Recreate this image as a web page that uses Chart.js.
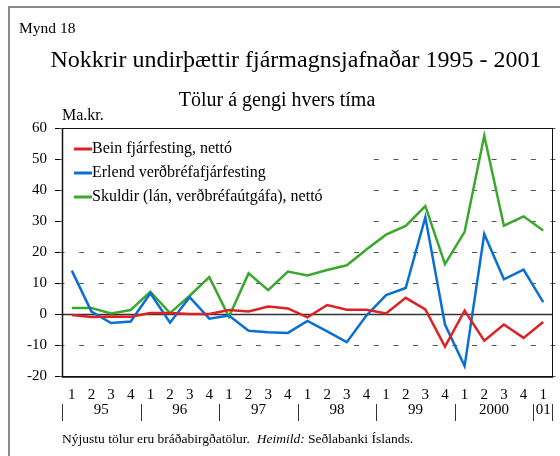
<!DOCTYPE html>
<html>
<head>
<meta charset="utf-8">
<script src="https://cdn.jsdelivr.net/npm/chart.js@4/dist/chart.umd.min.js"></script>
<style>
html, body { margin: 0; padding: 0; background: #fff; }
#wrap { width: 560px; height: 456px; }
</style>
</head>
<body>
<div id="wrap"><canvas id="chart" width="560" height="456"></canvas></div>
<script>
// Ársfjórðungar 1995 - 2001
const quarters = ['1','2','3','4','1','2','3','4','1','2','3','4','1','2','3','4','1','2','3','4','1','2','3','4','1'];
const years = ['95', '96', '97', '98', '99', '2000', '01'];

// Ma.kr.
const beinFjarfesting = [-0.3, -1.0, -0.8, -0.9, 0.3, 0.3, 0.0, 0.0, 1.3, 0.8, 2.4, 1.8, -1.1, 2.9, 1.4, 1.4, 0.2, 5.2, 1.5, -10.5, 1.1, -8.6, -3.4, -7.7, -2.6];
const erlendVerdbref = [14.0, 0.8, -2.9, -2.4, 6.7, -2.8, 5.4, -1.5, -0.5, -5.4, -5.9, -6.1, -2.2, -5.6, -9.1, -0.5, 6.1, 8.4, 31.2, -3.4, -16.8, 25.8, 11.2, 14.3, 3.8];
const skuldir = [1.9, 1.9, 0.2, 1.3, 7.2, 0.3, 5.9, 11.9, -0.9, 13.1, 7.7, 13.7, 12.4, 14.2, 15.7, 20.8, 25.6, 28.4, 34.8, 16.1, 26.5, 57.5, 28.5, 31.5, 26.9];

const seriesNames = ['Bein fjárfesting, nettó', 'Erlend verðbréfafjárfesting', 'Skuldir (lán, verðbréfaútgáfa), nettó'];
const seriesColors = ['#dc2222', '#0a6fd2', '#3aa82c'];

const serif = '"Liberation Serif", "Times New Roman", serif';

// Texti og rammi í kringum myndina
const frameText = {
    id: 'frameText',
    beforeDraw(chart) {
        const ctx = chart.ctx;
        const xs = chart.scales.x;
        const area = chart.chartArea;
        ctx.save();
        ctx.fillStyle = '#fff';
        ctx.fillRect(0, 0, chart.width, chart.height);

        // ytri rammi
        ctx.strokeStyle = '#8a8a8a';
        ctx.lineWidth = 2;
        ctx.beginPath();
        ctx.moveTo(9, 456);
        ctx.lineTo(9, 7);
        ctx.lineTo(560, 7);
        ctx.stroke();

        ctx.fillStyle = '#000';
        ctx.textBaseline = 'alphabetic';
        ctx.textAlign = 'left';
        ctx.font = '15.5px ' + serif;
        ctx.fillText('Mynd 18', 19, 33);
        ctx.font = '16px ' + serif;
        ctx.fillText('Ma.kr.', 62, 119.5);

        ctx.textAlign = 'center';
        ctx.font = '24px ' + serif;
        ctx.fillText('Nokkrir undirþættir fjármagnsjafnaðar 1995 - 2001', 296, 67);
        ctx.font = '20px ' + serif;
        ctx.fillText('Tölur á gengi hvers tíma', 277, 106);

        // ártöl undir x-ás
        const w = (area.right - area.left) / quarters.length;
        ctx.font = '15px ' + serif;
        ctx.textBaseline = 'middle';
        ctx.strokeStyle = '#333';
        ctx.lineWidth = 1;
        years.forEach((yr, j) => {
            const first = j * 4;
            const last = Math.min(first + 3, quarters.length - 1);
            const x0 = xs.getPixelForValue(first) - w / 2;
            const x1 = xs.getPixelForValue(last) + w / 2;
            ctx.beginPath();
            ctx.moveTo(Math.round(x0) + 0.5, 404);
            ctx.lineTo(Math.round(x0) + 0.5, 421);
            ctx.stroke();
            ctx.fillText(yr, (x0 + x1) / 2, 410);
            if (j === years.length - 1) {
                ctx.beginPath();
                ctx.moveTo(Math.round(x1) - 0.5, 404);
                ctx.lineTo(Math.round(x1) - 0.5, 421);
                ctx.stroke();
            }
        });

        // heimild
        ctx.textAlign = 'left';
        ctx.textBaseline = 'alphabetic';
        let fx = 62;
        const parts = [
            ['Nýjustu tölur eru bráðabirgðatölur.  ', ''],
            ['Heimild:', 'italic '],
            [' Seðlabanki Íslands.', '']
        ];
        parts.forEach(p => {
            ctx.font = p[1] + '13.5px ' + serif;
            ctx.fillText(p[0], fx, 443);
            fx += ctx.measureText(p[0]).width;
        });
        ctx.restore();
    },
    beforeDatasetsDraw(chart) {
        const ctx = chart.ctx;
        const xs = chart.scales.x;
        const ys = chart.scales.y;
        const area = chart.chartArea;
        const w = (area.right - area.left) / quarters.length;
        ctx.save();

        // strikalínur
        ctx.strokeStyle = '#555';
        ctx.lineWidth = 1;
        ys.ticks.forEach(t => {
            if (t.value === 0) return;
            const y = Math.round(ys.getPixelForValue(t.value)) + 0.5;
            for (let k = 0; k <= quarters.length; k++) {
                const x = xs.getPixelForValue(0) - w / 2 + k * w;
                ctx.beginPath();
                ctx.moveTo(x - 2.5, y);
                ctx.lineTo(x + 2.5, y);
                ctx.stroke();
            }
        });

        // núlllína
        const y0 = Math.round(ys.getPixelForValue(0)) + 0.5;
        ctx.strokeStyle = '#333';
        ctx.lineWidth = 1.5;
        ctx.beginPath();
        ctx.moveTo(area.left, y0);
        ctx.lineTo(area.right, y0);
        ctx.stroke();

        // skýringar
        ctx.fillStyle = '#fff';
        ctx.fillRect(area.left + 1, area.top + 1, 304, 107);
        ctx.font = '16px ' + serif;
        ctx.textBaseline = 'middle';
        ctx.textAlign = 'left';
        seriesNames.forEach((name, i) => {
            const y = area.top + 21 + i * 24;
            ctx.strokeStyle = seriesColors[i];
            ctx.lineWidth = 3;
            ctx.beginPath();
            ctx.moveTo(area.left + 12, y);
            ctx.lineTo(area.left + 30, y);
            ctx.stroke();
            ctx.fillStyle = '#000';
            ctx.fillText(name, area.left + 30, y);
        });
        ctx.restore();
    },
    afterDatasetsDraw(chart) {
        const ctx = chart.ctx;
        const area = chart.chartArea;
        ctx.save();
        ctx.strokeStyle = '#111';
        ctx.lineWidth = 1;
        ctx.strokeRect(Math.round(area.left) + 0.5, Math.round(area.top) + 0.5,
            Math.round(area.right - area.left) - 1, Math.round(area.bottom - area.top));
        ctx.lineWidth = 1.5;
        ctx.beginPath();
        ctx.moveTo(Math.round(area.left) + 0.5, area.top);
        ctx.lineTo(Math.round(area.left) + 0.5, area.bottom + 1);
        ctx.lineTo(area.right, area.bottom + 1);
        ctx.stroke();
        ctx.restore();
    }
};

new Chart(document.getElementById('chart'), {
    type: 'line',
    data: {
        labels: quarters,
        datasets: [
            { label: seriesNames[0], data: beinFjarfesting, borderColor: seriesColors[0] },
            { label: seriesNames[1], data: erlendVerdbref, borderColor: seriesColors[1] },
            { label: seriesNames[2], data: skuldir, borderColor: seriesColors[2] }
        ]
    },
    options: {
        responsive: false,
        animation: false,
        devicePixelRatio: 1,
        layout: { padding: { top: 128, right: 7, left: 0, bottom: 0 } },
        elements: {
            line: { borderWidth: 2.5, tension: 0, fill: false },
            point: { radius: 0 }
        },
        plugins: {
            legend: { display: false },
            title: { display: false },
            tooltip: { enabled: false }
        },
        scales: {
            x: {
                type: 'category',
                offset: true,
                grid: { drawOnChartArea: false, drawTicks: false },
                border: { display: false },
                ticks: {
                    autoSkip: false,
                    maxRotation: 0,
                    color: '#000',
                    padding: 10,
                    font: { family: serif, size: 15 }
                },
                afterFit(scale) { scale.height = 80; }
            },
            y: {
                min: -20,
                max: 60,
                ticks: {
                    stepSize: 10,
                    color: '#000',
                    padding: 8,
                    font: { family: serif, size: 15 }
                },
                grid: { drawOnChartArea: false, drawTicks: true, tickLength: 7, color: '#000' },
                border: { display: false },
                afterFit(scale) { scale.width = 62; }
            }
        }
    },
    plugins: [frameText]
});
</script>
</body>
</html>
